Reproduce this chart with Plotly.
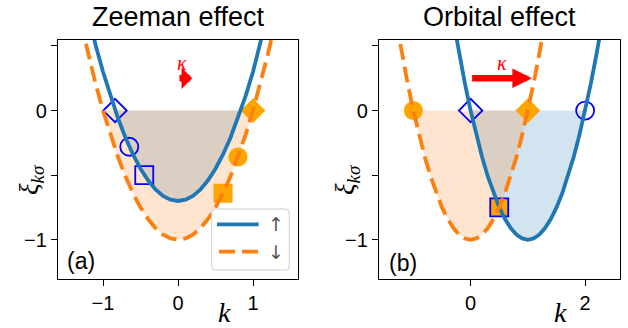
import plotly.graph_objects as go

W, H = 628, 328

# ---------------- data ----------------
panel_titles = ["Zeeman effect", "Orbital effect"]
panel_tags = ["(a)", "(b)"]
legend_labels = ["↑", "↓"]

# (a) Zeeman effect
k_a = [-1.3, -1.2, -1.1, -1.0, -0.9, -0.8, -0.7, -0.6, -0.5, -0.4, -0.3, -0.2, -0.1, 0.0,
       0.1, 0.2, 0.3, 0.4, 0.5, 0.6, 0.7, 0.8, 0.9, 1.0, 1.1, 1.2, 1.3]
xi_up_a = [0.99, 0.74, 0.51, 0.30, 0.11, -0.06, -0.21, -0.34, -0.45, -0.54, -0.61, -0.66, -0.69, -0.70,
           -0.69, -0.66, -0.61, -0.54, -0.45, -0.34, -0.21, -0.06, 0.11, 0.30, 0.51, 0.74, 0.99]
xi_dn_a = [0.69, 0.44, 0.21, 0.00, -0.19, -0.36, -0.51, -0.64, -0.75, -0.84, -0.91, -0.96, -0.99, -1.00,
           -0.99, -0.96, -0.91, -0.84, -0.75, -0.64, -0.51, -0.36, -0.19, 0.00, 0.21, 0.44, 0.69]
kF_up_a = [-0.84, 0.84]
kF_dn_a = [-1.0, 1.0]
mk_up_a_k = [-0.84, -0.65, -0.45]
mk_up_a_xi = [0.0, -0.28, -0.50]
mk_dn_a_k = [1.0, 0.8, 0.6]
mk_dn_a_xi = [0.0, -0.36, -0.64]
kappa_a = 0.19

# (b) Orbital effect
k_dn_b = [-1.3, -1.2, -1.1, -1.0, -0.9, -0.8, -0.7, -0.6, -0.5, -0.4, -0.3, -0.2, -0.1, 0.0,
          0.1, 0.2, 0.3, 0.4, 0.5, 0.6, 0.7, 0.8, 0.9, 1.0, 1.1, 1.2, 1.3]
xi_dn_b = [0.69, 0.44, 0.21, 0.00, -0.19, -0.36, -0.51, -0.64, -0.75, -0.84, -0.91, -0.96, -0.99, -1.00,
           -0.99, -0.96, -0.91, -0.84, -0.75, -0.64, -0.51, -0.36, -0.19, 0.00, 0.21, 0.44, 0.69]
k_up_b = [-0.3, -0.2, -0.1, 0.0, 0.1, 0.2, 0.3, 0.4, 0.5, 0.6, 0.7, 0.8, 0.9, 1.0,
          1.1, 1.2, 1.3, 1.4, 1.5, 1.6, 1.7, 1.8, 1.9, 2.0, 2.1, 2.2, 2.3]
xi_up_b = [0.69, 0.44, 0.21, 0.00, -0.19, -0.36, -0.51, -0.64, -0.75, -0.84, -0.91, -0.96, -0.99, -1.00,
           -0.99, -0.96, -0.91, -0.84, -0.75, -0.64, -0.51, -0.36, -0.19, 0.00, 0.21, 0.44, 0.69]
kF_up_b = [0.0, 2.0]
kF_dn_b = [-1.0, 1.0]
mk_up_b_k = [0.0, 2.0, 0.5]
mk_up_b_xi = [0.0, 0.0, -0.75]
mk_dn_b_k = [1.0, -1.0, 0.5]
mk_dn_b_xi = [0.0, 0.0, -0.75]
kappa_b = 1.07

arrow_y = 0.25
x_ticks_a = [-1, 0, 1]
x_ticks_b = [0, 2]
y_ticks = [-1, -0.5, 0, 0.5]
y_ticktext = ["−1", "", "0", ""]

# ---------------- styling ----------------
BLUE = "#1f77b4"
ORANGE = "#ff7f0e"
BLUE_FILL = "rgba(31,119,180,0.2)"
ORANGE_FILL = "rgba(255,127,14,0.2)"
MK_BLUE = "#0000ff"
MK_ORANGE = "#ffa500"
SANS = "Liberation Sans, Arial, sans-serif"
SERIF = "Liberation Serif, DejaVu Serif, serif"
DASH = "16px,7px"
symbols_up = ["diamond-open", "circle-open", "square-open"]
symbols_dn = ["diamond", "circle", "square"]


def fill_poly(k, xi, kf):
    xs = [kf[0]] + [a for a in k if kf[0] < a < kf[1]] + [kf[1]]
    ys = [0.0] + [b for a, b in zip(k, xi) if kf[0] < a < kf[1]] + [0.0]
    return xs, ys


fig = go.Figure()


def add_panel(xr, yr, k_up, xi_up, kf_up, k_dn, xi_dn, kf_dn, mku_k, mku_xi, mkd_k, mkd_xi):
    fx, fy = fill_poly(k_up, xi_up, kf_up)
    fig.add_trace(go.Scatter(x=fx, y=fy, fill="toself", fillcolor=BLUE_FILL, mode="none",
                             hoverinfo="skip", showlegend=False, xaxis=xr, yaxis=yr))
    fx, fy = fill_poly(k_dn, xi_dn, kf_dn)
    fig.add_trace(go.Scatter(x=fx, y=fy, fill="toself", fillcolor=ORANGE_FILL, mode="none",
                             hoverinfo="skip", showlegend=False, xaxis=xr, yaxis=yr))
    fig.add_trace(go.Scatter(x=mkd_k, y=mkd_xi, mode="markers",
                             marker=dict(symbol=symbols_dn, size=19, color=MK_ORANGE, line=dict(width=0)),
                             showlegend=False, xaxis=xr, yaxis=yr))
    fig.add_trace(go.Scatter(x=mku_k, y=mku_xi, mode="markers",
                             marker=dict(symbol=symbols_up, size=18, color=MK_BLUE,
                                         line=dict(width=1.8, color=MK_BLUE)),
                             showlegend=False, xaxis=xr, yaxis=yr))
    fig.add_trace(go.Scatter(x=k_up, y=xi_up, mode="lines", line=dict(color=BLUE, width=3.8),
                             showlegend=False, xaxis=xr, yaxis=yr))
    fig.add_trace(go.Scatter(x=k_dn, y=xi_dn, mode="lines",
                             line=dict(color=ORANGE, width=3.8, dash=DASH),
                             showlegend=False, xaxis=xr, yaxis=yr))


add_panel("x", "y", k_a, xi_up_a, kF_up_a, k_a, xi_dn_a, kF_dn_a,
          mk_up_a_k, mk_up_a_xi, mk_dn_a_k, mk_dn_a_xi)
add_panel("x2", "y2", k_up_b, xi_up_b, kF_up_b, k_dn_b, xi_dn_b, kF_dn_b,
          mk_up_b_k, mk_up_b_xi, mk_dn_b_k, mk_dn_b_xi)


def px(x):
    return x / W


def py(y):
    return 1 - y / H


axis_common = dict(showgrid=False, zeroline=False, showline=True, linecolor="black", linewidth=1.2,
                   mirror=True, ticks="outside", ticklen=6, tickwidth=1.2, tickcolor="black",
                   tickfont=dict(family=SANS, size=20, color="black"))

fig.update_layout(
    width=W, height=H, margin=dict(l=0, r=0, t=0, b=0),
    paper_bgcolor="white", plot_bgcolor="white", showlegend=False,
    xaxis=dict(domain=[px(58), px(298)], range=[-1.6, 1.6], tickvals=x_ticks_a,
               ticktext=["−1", "0", "1"], anchor="y", **axis_common),
    yaxis=dict(domain=[py(278.5), py(39.5)], range=[-1.3, 0.55], tickvals=y_ticks,
               ticktext=y_ticktext, anchor="x", **axis_common),
    xaxis2=dict(domain=[px(379), px(619.5)], range=[-1.6, 2.6], tickvals=x_ticks_b,
                ticktext=[str(v) for v in x_ticks_b], anchor="y2", **axis_common),
    yaxis2=dict(domain=[py(278.5), py(39.5)], range=[-1.3, 0.55], tickvals=y_ticks,
                ticktext=y_ticktext, anchor="x2", **axis_common),
)

ann = []
# titles
for cx, t in zip([178, 499], panel_titles):
    ann.append(dict(x=px(cx), y=py(17), xref="paper", yref="paper", text=t, showarrow=False,
                    xanchor="center", yanchor="middle", font=dict(family=SANS, size=27, color="black")))
# panel tags
for (cx, cy), t in zip([(81, 261), (403, 263)], panel_tags):
    ann.append(dict(x=px(cx), y=py(cy), xref="paper", yref="paper", text=t, showarrow=False,
                    xanchor="center", yanchor="middle", font=dict(family=SANS, size=23, color="black")))
# y labels
for cx in [31, 347]:
    ann.append(dict(x=px(cx), y=py(180), xref="paper", yref="paper",
                    text="<i>ξ</i><sub><i>kσ</i></sub>", textangle=-90, showarrow=False,
                    xanchor="center", yanchor="middle", font=dict(family=SERIF, size=27, color="black")))
# x labels
for cx in [225, 560]:
    ann.append(dict(x=px(cx), y=py(312), xref="paper", yref="paper", text="<i>k</i>", showarrow=False,
                    xanchor="center", yanchor="middle", font=dict(family=SERIF, size=28, color="black")))
# kappa arrows
for xr, yr, kap, head, size in [("x", "y", kappa_a, 1, 0.55), ("x2", "y2", kappa_b, 2, 0.6)]:
    ann.append(dict(x=kap, y=arrow_y, ax=0, ay=arrow_y, xref=xr, yref=yr, axref=xr, ayref=yr,
                    text="", showarrow=True, arrowhead=head, arrowsize=size, arrowwidth=6.5,
                    arrowcolor="red", standoff=0, startstandoff=0))
for xr, yr, kx in [("x", "y", 0.05), ("x2", "y2", 0.54)]:
    ann.append(dict(x=kx, y=0.37, xref=xr, yref=yr, text="<i>κ</i>", showarrow=False,
                    xanchor="center", yanchor="middle", font=dict(family=SERIF, size=20, color="red")))

# legend (manual, inside panel a)
x0, x1, y0, y1, r = 211.7, 289.3, 209, 270, 4
path = (f"M{px(x0 + r)},{py(y0)} L{px(x1 - r)},{py(y0)} Q{px(x1)},{py(y0)} {px(x1)},{py(y0 + r)} "
        f"L{px(x1)},{py(y1 - r)} Q{px(x1)},{py(y1)} {px(x1 - r)},{py(y1)} "
        f"L{px(x0 + r)},{py(y1)} Q{px(x0)},{py(y1)} {px(x0)},{py(y1 - r)} "
        f"L{px(x0)},{py(y0 + r)} Q{px(x0)},{py(y0)} {px(x0 + r)},{py(y0)} Z")
shapes = [dict(type="path", path=path, xref="paper", yref="paper", line=dict(color="#cccccc", width=1),
               fillcolor="rgba(255,255,255,0.8)")]
shapes.append(dict(type="line", xref="paper", yref="paper", x0=px(217), x1=px(258.7), y0=py(224.3),
                   y1=py(224.3), line=dict(color=BLUE, width=3.8)))
shapes.append(dict(type="line", xref="paper", yref="paper", x0=px(219), x1=px(258.7), y0=py(251.7),
                   y1=py(251.7), line=dict(color=ORANGE, width=3.8, dash=DASH)))
for cy, t in zip([224.3, 251.7], legend_labels):
    ann.append(dict(x=px(276), y=py(cy), xref="paper", yref="paper", text=t, showarrow=False,
                    xanchor="center", yanchor="middle", font=dict(family="DejaVu Sans", size=19, color="#555")))

fig.update_layout(annotations=ann, shapes=shapes)
fig.write_html("out.html", config={"displayModeBar": False},
               post_script="document.body.style.margin='0';document.body.style.padding='0';")
